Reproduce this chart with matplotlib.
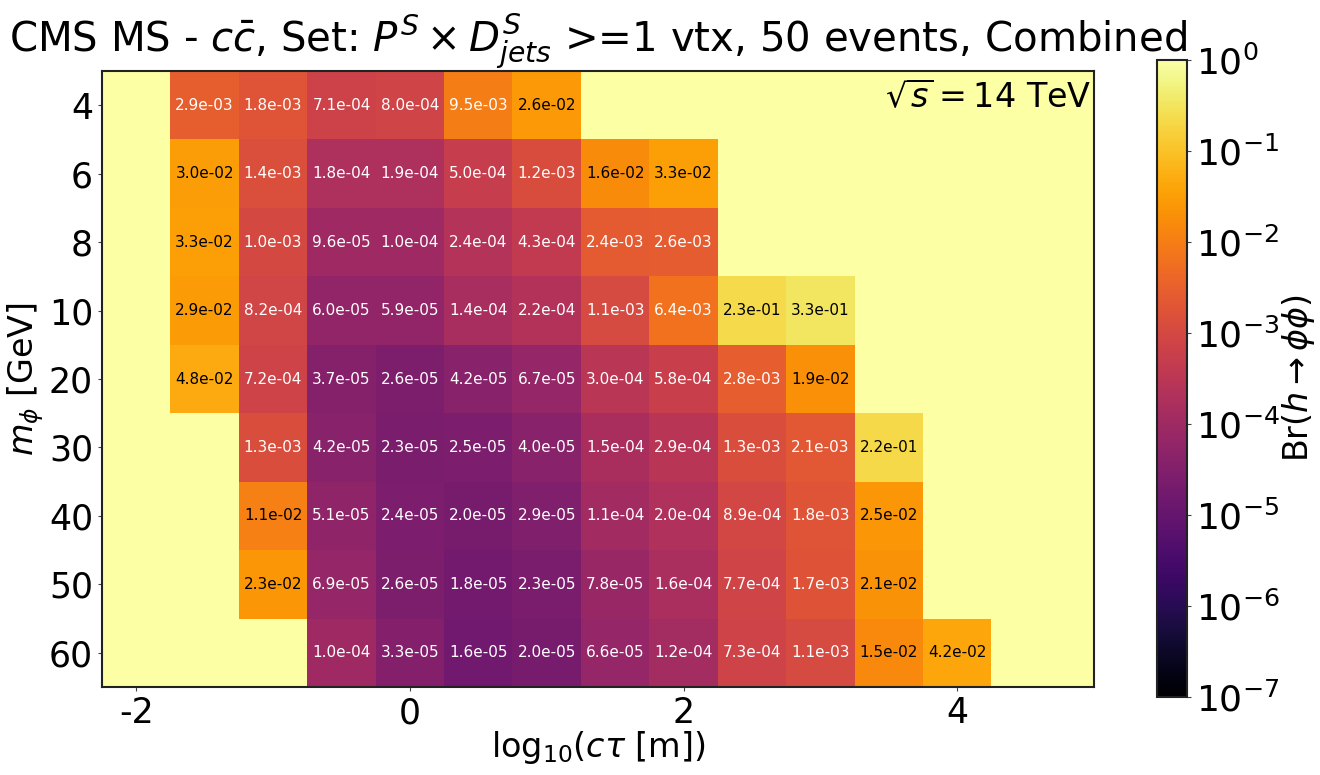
import numpy as np
import matplotlib.pyplot as plt
from matplotlib.colors import LogNorm
from matplotlib.ticker import LogLocator, NullLocator

# x: log10(c tau [m]) bin centres, y: scalar mass rows (top to bottom)
log_ctau = [-2.0, -1.5, -1.0, -0.5, 0.0, 0.5, 1.0, 1.5, 2.0, 2.5, 3.0, 3.5, 4.0, 4.5]
masses = [4, 6, 8, 10, 20, 30, 40, 50, 60]

N = None
br_m4 = [N, 2.9e-03, 1.8e-03, 7.1e-04, 8.0e-04, 9.5e-03, 2.6e-02, N, N, N, N, N, N, N]
br_m6 = [N, 3.0e-02, 1.4e-03, 1.8e-04, 1.9e-04, 5.0e-04, 1.2e-03, 1.6e-02, 3.3e-02, N, N, N, N, N]
br_m8 = [N, 3.3e-02, 1.0e-03, 9.6e-05, 1.0e-04, 2.4e-04, 4.3e-04, 2.4e-03, 2.6e-03, N, N, N, N, N]
br_m10 = [N, 2.9e-02, 8.2e-04, 6.0e-05, 5.9e-05, 1.4e-04, 2.2e-04, 1.1e-03, 6.4e-03, 2.3e-01, 3.3e-01, N, N, N]
br_m20 = [N, 4.8e-02, 7.2e-04, 3.7e-05, 2.6e-05, 4.2e-05, 6.7e-05, 3.0e-04, 5.8e-04, 2.8e-03, 1.9e-02, N, N, N]
br_m30 = [N, N, 1.3e-03, 4.2e-05, 2.3e-05, 2.5e-05, 4.0e-05, 1.5e-04, 2.9e-04, 1.3e-03, 2.1e-03, 2.2e-01, N, N]
br_m40 = [N, N, 1.1e-02, 5.1e-05, 2.4e-05, 2.0e-05, 2.9e-05, 1.1e-04, 2.0e-04, 8.9e-04, 1.8e-03, 2.5e-02, N, N]
br_m50 = [N, N, 2.3e-02, 6.9e-05, 2.6e-05, 1.8e-05, 2.3e-05, 7.8e-05, 1.6e-04, 7.7e-04, 1.7e-03, 2.1e-02, N, N]
br_m60 = [N, N, N, 1.0e-04, 3.3e-05, 1.6e-05, 2.0e-05, 6.6e-05, 1.2e-04, 7.3e-04, 1.1e-03, 1.5e-02, 4.2e-02, N]

rows = [br_m4, br_m6, br_m8, br_m10, br_m20, br_m30, br_m40, br_m50, br_m60]
vals = np.array([[np.nan if v is None else v for v in r] for r in rows])
# empty bins are drawn at the top of the scale
grid = np.where(np.isnan(vals), 1.0, vals)

cmap = plt.get_cmap('inferno')
norm = LogNorm(vmin=1e-7, vmax=1e0)

fig = plt.figure(figsize=(13.2, 7.75), dpi=100)
ax = fig.add_axes([102 / 1320, 88 / 775, 992 / 1320, 616 / 775])
cax = fig.add_axes([1157 / 1320, 78 / 775, 30 / 1320, 637 / 775])

x = np.array(log_ctau)
xedges = np.append(x - 0.25, x[-1] + 0.25)
yedges = np.arange(len(masses) + 1) - 0.5
mesh = ax.pcolormesh(xedges, yedges, grid, cmap=cmap, norm=norm)
ax.set_facecolor(cmap(1.0))

for i in range(len(masses)):
    for j in range(len(log_ctau)):
        v = vals[i, j]
        if np.isnan(v):
            continue
        col = 'white' if v < 1e-2 else 'black'
        ax.text(x[j], i, f'{v:.1e}', ha='center', va='center', fontsize=11, color=col)

ax.set_xlim(-2.25, 5.0)
ax.set_ylim(len(masses) - 0.5, -0.5)
ax.set_xticks([-2, 0, 2, 4])
ax.set_xticklabels(['-2', '0', '2', '4'])
ax.set_yticks(range(len(masses)))
ax.set_yticklabels([str(m) for m in masses])
ax.tick_params(labelsize=25, length=3, color='#444444')
for s in ax.spines.values():
    s.set_linewidth(1.5)
    s.set_color('#222222')

ax.set_xlabel(r'log$_{10}$($c\tau$ [m])', fontsize=24, labelpad=-1)
ax.set_ylabel(r'$m_{\phi}$ [GeV]', fontsize=24, labelpad=2)
ax.set_title(r'CMS MS - $c\bar{c}$, Set: $P^S \times D^S_{jets}$ >=1 vtx, 50 events, Combined',
             fontsize=29, pad=3)
ax.text(0.997, 0.985, r'$\sqrt{s} = 14$ TeV', transform=ax.transAxes,
        ha='right', va='top', fontsize=24)

cb = fig.colorbar(mesh, cax=cax)
cb.locator = LogLocator(base=10, numticks=10)
cb.update_ticks()
cax.yaxis.set_minor_locator(NullLocator())
cax.tick_params(labelsize=26, length=3, color='#444444')
cb.outline.set_linewidth(1.5)
cb.outline.set_edgecolor('#222222')
cb.set_label(r'Br$(h \rightarrow \phi\phi)$', fontsize=24, labelpad=0)

plt.savefig('out.png', dpi=100)
